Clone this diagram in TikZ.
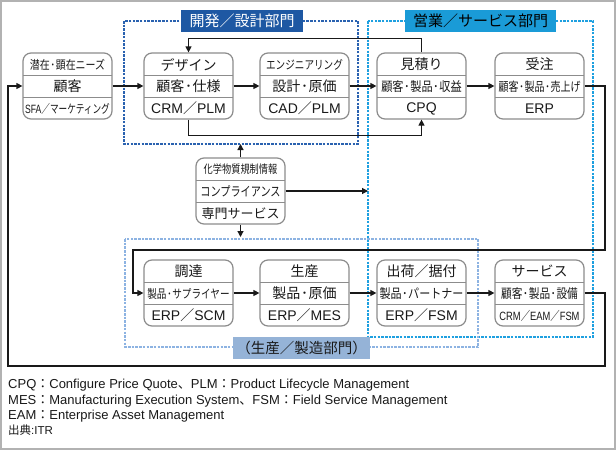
\documentclass[tikz,border=0pt]{standalone}
\usepackage{fontspec}
\setmainfont{Noto Sans CJK JP}
\newfontfamily\lat{Liberation Sans}
\usetikzlibrary{arrows.meta}
\definecolor{devc}{HTML}{2A62B0}
\definecolor{devfill}{HTML}{1E58A3}
\definecolor{salc}{HTML}{1EA0E0}
\definecolor{salfill}{HTML}{1A9BD7}
\definecolor{proc}{HTML}{8DB3E2}
\definecolor{profill}{HTML}{95B3D7}
\definecolor{boxc}{HTML}{8C8C8C}
\newcommand\fs[1]{\fontsize{#1pt}{#1pt}\selectfont}
\newcommand\sq[2]{\scalebox{#1}[1]{#2}}
\newcommand\dt{\makebox[0.6em][c]{･}}
\tikzset{
  boxst/.style={draw=boxc, line width=1.2pt, rounded corners=8pt, fill=white,
    minimum width=89pt, minimum height=66pt, inner sep=0pt},
  divst/.style={draw=boxc, line width=1pt},
  txt/.style={inner sep=0pt, font=\fs{14}, text=black!90},
  conn/.style={line width=1.2pt, black!90, -{Triangle[length=6pt,width=6pt]}},
  region/.style={line width=1.4pt, dash pattern=on 2.5pt off 1.2pt},
  lbl/.style={inner sep=0pt, minimum height=22pt, font=\fs{15}}
}
\newcommand\mybox[6]{%
  \node[boxst] (#1) at (#2+44.5,#3+33) {};
  \draw[divst] (#2,#3+22.5) -- (#2+89,#3+22.5);
  \draw[divst] (#2,#3+44) -- (#2+89,#3+44);
  \node[txt] (#1-t) at (#2+44.5,#3+11.5) {#4};
  \node[txt] (#1-m) at (#2+44.5,#3+33.5) {#5};
  \node[txt] (#1-b) at (#2+44.5,#3+55.5) {#6};
}
\begin{document}
\begin{tikzpicture}[x=1pt,y=-1pt]
\useasboundingbox (0,0) rectangle (616,450);
\fill[white] (0,0) rectangle (616,450);
\draw[black!30, line width=2pt] (1,1) rectangle (615,449);

% regions
\draw[region, draw=devc] (124,21) rectangle (358,144);
\draw[region, draw=salc] (368,21) rectangle (593,337);
\draw[region, draw=proc] (125,239) rectangle (478,347);

% boxes
\mybox{ky}{23}{53}{\fs{12}\sq{0.83}{潜在\dt 顕在ニーズ}}{顧客}{\fs{12}\sq{0.72}{{\lat SFA}／マーケティング}}
\mybox{dz}{144}{53}{デザイン}{顧客\dt 仕様}{{\lat CRM}／{\lat PLM}}
\mybox{en}{260}{53}{\fs{12}\sq{0.8}{エンジニアリング}}{設計\dt 原価}{{\lat CAD}／{\lat PLM}}
\mybox{mt}{377}{53}{見積り}{\fs{13}\sq{0.86}{顧客\dt 製品\dt 収益}}{{\lat CPQ}}
\mybox{jc}{495}{53}{受注}{\fs{12.5}\sq{0.8}{顧客\dt 製品\dt 売上げ}}{{\lat ERP}}
\mybox{cp}{196}{158}{\fs{11.5}\sq{0.8}{化学物質規制情報}}{\fs{13}\sq{0.78}{コンプライアンス}}{\fs{13}専門サービス}
\mybox{cd}{144}{260}{調達}{\fs{12}\sq{0.8}{製品\dt サプライヤー}}{{\lat ERP}／{\lat SCM}}
\mybox{sn}{260}{260}{生産}{製品\dt 原価}{{\lat ERP}／{\lat MES}}
\mybox{sk}{377}{260}{出荷／据付}{\fs{13}\sq{0.85}{製品\dt パートナー}}{{\lat ERP}／{\lat FSM}}
\mybox{sv}{495}{260}{サービス}{\fs{13}\sq{0.82}{顧客\dt 製品\dt 設備}}{\fs{12}\sq{0.78}{{\lat CRM}／{\lat EAM}／{\lat FSM}}}

% labels
\node[lbl, fill=devfill, text=white, minimum width=122pt] (devl) at (242,21) {開発／設計部門};
\node[lbl, fill=salfill, text=black, minimum width=151pt] (sall) at (480.5,21) {営業／サービス部門};
\node[lbl, fill=profill, text=black!90, minimum width=137pt, font=\fs{14.5}] (prol) at (301.5,348) {（生産／製造部門）};

% helper coordinates
\coordinate (devb) at (0,144);
\coordinate (prot) at (0,237);
\coordinate (salleft) at (368,0);
\coordinate (ra) at (605,250);
\coordinate (la) at (133,250);
\coordinate (rb) at (605,366);
\coordinate (lb) at (8,366);

% connectors
\draw[conn] (ky.east) -- (dz.west);
\draw[conn] (dz.east) -- (en.west);
\draw[conn] (en.east) -- (mt.west);
\draw[conn] (mt.east) -- (jc.west);
\draw[conn] (mt.north) -- ++(0,-14) -| (dz.north);
\draw[conn] (dz.south) -- ++(0,16) -| (mt.south);
\draw[conn] (cp.north) -- (cp.north |- devb);
\draw[conn] (cp.south) -- (cp.south |- prot);
\draw[conn] (cp.east) -- (cp.east -| salleft);
\draw[conn] (jc.east) -| (ra) -- (la) |- (cd.west);
\draw[conn] (cd.east) -- (sn.west);
\draw[conn] (sn.east) -- (sk.west);
\draw[conn] (sk.east) -- (sv.west);
\draw[conn] (sv.east) -| (rb) -- (lb) |- (ky.west);

% footer
\node[anchor=west, inner sep=0pt, font=\fs{13}, text=black!90] (f1) at (8,385) {{\lat CPQ}：{\lat Configure Price Quote}、{\lat PLM}：{\lat Product Lifecycle Management}};
\node[anchor=west, inner sep=0pt, font=\fs{13}, text=black!90] (f2) at (8,401) {{\lat MES}：{\lat Manufacturing Execution System}、{\lat FSM}：{\lat Field Service Management}};
\node[anchor=west, inner sep=0pt, font=\fs{13}, text=black!90] (f3) at (8,416) {{\lat EAM}：{\lat Enterprise Asset Management}};
\node[anchor=west, inner sep=0pt, font=\fs{11.5}, text=black!90] (f4) at (8,430) {出典{\lat :ITR}};
\end{tikzpicture}
\end{document}
